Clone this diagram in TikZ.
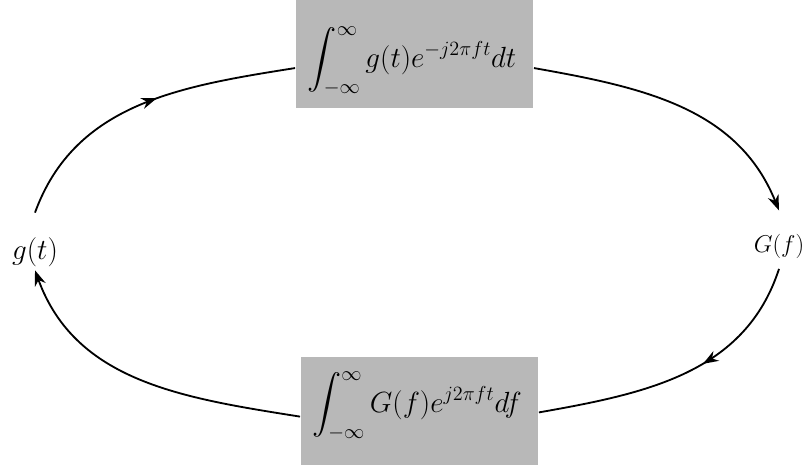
\documentclass[tikz,border=0pt]{standalone}
\usepackage{amsmath,amssymb}
\usepackage{tikz}
\usetikzlibrary{arrows.meta,decorations.markings,calc,positioning}
\newcommand{\ii}{\infty}

\begin{document}
\begin{tikzpicture}[>={Stealth[length=11pt,width=8pt]},x=0.025cm,y=-0.025cm,
  line width=1.3pt,
  trbox/.style={fill=black!28,inner sep=0pt},
  trtext/.style={inner sep=0pt,font=\huge},
  midarrow/.style={postaction={decorate},decoration={markings,
      mark=at position #1 with {\arrow{Stealth[length=11pt,width=8pt]}}}}]
  \useasboundingbox (0,0) rectangle (807,465);
  % transform boxes
  \node[trbox,minimum width=237*0.025cm,minimum height=108*0.025cm] (fwd) at (414.5,54) {};
  \node[trtext] (fwdtxt) at (412,61) {$\displaystyle\int_{-\ii}^{\ii} g(t)e^{-j2\pi ft}dt$};
  \node[trbox,minimum width=237*0.025cm,minimum height=108*0.025cm] (inv) at (419.5,411) {};
  \node[trtext] (invtxt) at (417,406) {$\displaystyle\int_{-\ii}^{\ii} G(f)e^{j2\pi ft}df$};
  % time and frequency
  \node[inner sep=2pt,font=\huge] (gt) at (35,252) {$g(t)$};
  \node[inner sep=2pt,font=\LARGE] (Gf) at (779,246) {$G(f)$};
  \draw[midarrow=0.55] ([yshift=15pt]gt.north) to[out=70,in=189] ([yshift=-10pt]fwd.west);
  \draw[->] ([yshift=-10pt]fwd.east) to[out=-10,in=112] ([yshift=14pt]Gf.north);
  \draw[midarrow=0.42] ([yshift=-5pt]Gf.south) to[out=-108,in=10] ([yshift=-1pt]inv.east);
  \draw[->] ([yshift=-4pt]inv.west) to[out=171,in=-70] (gt.south);
\end{tikzpicture}
\end{document}
